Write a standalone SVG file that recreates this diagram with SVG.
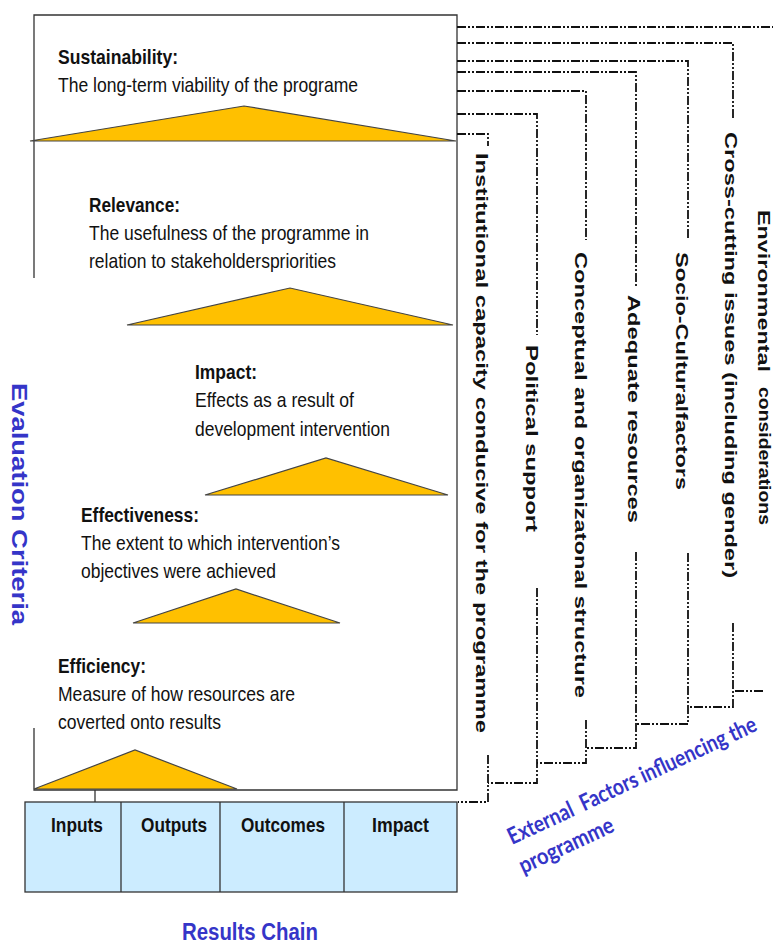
<svg xmlns="http://www.w3.org/2000/svg" width="773" height="944" viewBox="0 0 773 944">
<style>
  .bd{stroke:#333;stroke-width:1.3;fill:none}
  .tri{fill:#FFC000;stroke:#444;stroke-width:1.2;stroke-linejoin:miter}
  .ttl{font-family:"Liberation Sans",Arial,sans-serif;font-size:21px;font-weight:bold;fill:#111}
  .txt{font-family:"Liberation Sans",Arial,sans-serif;font-size:21px;fill:#111}
  .vt{font-family:"Liberation Sans",Arial,sans-serif;font-size:17px;font-weight:bold;fill:#111}
  .blue{font-family:"Liberation Sans",Arial,sans-serif;font-weight:bold;fill:#3535C8}
  .ext{font-family:Lato,"Open Sans",sans-serif;font-weight:bold;font-size:23px;fill:#3535C8;white-space:pre}
  .rc{fill:#CCECFF;stroke:#333;stroke-width:1.3}
  .dl{fill:none;stroke:#111;stroke-width:1.8;stroke-dasharray:9 2 2 2 2 2}
</style>

<g id="criteria-box">
  <path class="bd" d="M34,278 V15 H457 V790 H34 V728"/>
</g>

<g id="sustainability">
  <polygon class="tri" points="30,141 244,106 456,141"/>
  <text class="ttl" x="58" y="64" textLength="120" lengthAdjust="spacingAndGlyphs">Sustainability:</text>
  <text class="txt" x="58" y="92" textLength="300" lengthAdjust="spacingAndGlyphs">The long-term viability of the programe</text>
</g>

<g id="relevance">
  <polygon class="tri" points="127,325 290,288 453,325"/>
  <text class="ttl" x="89" y="212" textLength="91" lengthAdjust="spacingAndGlyphs">Relevance:</text>
  <text class="txt" x="89" y="240" textLength="280" lengthAdjust="spacingAndGlyphs">The usefulness of the programme in</text>
  <text class="txt" x="89" y="268" textLength="247" lengthAdjust="spacingAndGlyphs">relation to stakeholderspriorities</text>
</g>

<g id="impact">
  <polygon class="tri" points="205,495 326,458 448,495"/>
  <text class="ttl" x="195" y="379" textLength="62" lengthAdjust="spacingAndGlyphs">Impact:</text>
  <text class="txt" x="195" y="407" textLength="159" lengthAdjust="spacingAndGlyphs">Effects as a result of</text>
  <text class="txt" x="195" y="436" textLength="195" lengthAdjust="spacingAndGlyphs">development intervention</text>
</g>

<g id="effectiveness">
  <polygon class="tri" points="133,623 236,589 340,623"/>
  <text class="ttl" x="81" y="522" textLength="118" lengthAdjust="spacingAndGlyphs">Effectiveness:</text>
  <text class="txt" x="81" y="550" textLength="259" lengthAdjust="spacingAndGlyphs">The extent to which intervention’s</text>
  <text class="txt" x="81" y="578" textLength="195" lengthAdjust="spacingAndGlyphs">objectives were achieved</text>
</g>

<g id="efficiency">
  <polygon class="tri" points="34,789 135,750 237,789"/>
  <text class="ttl" x="58" y="673" textLength="88" lengthAdjust="spacingAndGlyphs">Efficiency:</text>
  <text class="txt" x="58" y="701" textLength="237" lengthAdjust="spacingAndGlyphs">Measure of how resources are</text>
  <text class="txt" x="58" y="729" textLength="163" lengthAdjust="spacingAndGlyphs">coverted onto results</text>
  <line x1="95" y1="790" x2="95" y2="802" stroke="#333" stroke-width="1.3"/>
</g>

<g id="results-chain">
  <rect class="rc" x="25" y="802" width="432" height="90"/>
  <line x1="121" y1="802" x2="121" y2="892" stroke="#333" stroke-width="1.3"/>
  <line x1="220" y1="802" x2="220" y2="892" stroke="#333" stroke-width="1.3"/>
  <line x1="344" y1="802" x2="344" y2="892" stroke="#333" stroke-width="1.3"/>
  <text class="ttl" x="51" y="832" textLength="52" lengthAdjust="spacingAndGlyphs">Inputs</text>
  <text class="ttl" x="141" y="832" textLength="66" lengthAdjust="spacingAndGlyphs">Outputs</text>
  <text class="ttl" x="241" y="832" textLength="84" lengthAdjust="spacingAndGlyphs">Outcomes</text>
  <text class="ttl" x="372" y="832" textLength="57" lengthAdjust="spacingAndGlyphs">Impact</text>
</g>

<g id="results-chain-label">
  <text class="blue" x="182" y="940" font-size="23" textLength="136" lengthAdjust="spacingAndGlyphs">Results Chain</text>
</g>

<g id="evaluation-criteria-label">
  <text class="blue" font-size="22" transform="translate(12,383) rotate(90)" textLength="242" lengthAdjust="spacingAndGlyphs">Evaluation Criteria</text>
</g>

<g id="connectors">
  <path class="dl" d="M457,27 H773"/>
  <path class="dl" d="M457,43 H733 V120"/>
  <path class="dl" d="M457,61 H688 V240"/>
  <path class="dl" d="M457,72 H636 V288"/>
  <path class="dl" d="M457,91 H586 V240"/>
  <path class="dl" d="M457,114 H537 V335"/>
  <path class="dl" d="M457,134 H488 V146"/>
  <path class="dl" d="M763,691 H733"/>
  <path class="dl" d="M733,623 V707 H688"/>
  <path class="dl" d="M688,553 V724 H636"/>
  <path class="dl" d="M636,552 V748 H586"/>
  <path class="dl" d="M586,720 V763 H537"/>
  <path class="dl" d="M537,588 V783 H488"/>
  <path class="dl" d="M488,755 V802 H458"/>
</g>

<g id="institutional">
  <text class="vt" transform="translate(476,153) rotate(90)" textLength="580" lengthAdjust="spacingAndGlyphs">Institutional capacity conducive for the programme</text>
</g>
<g id="political">
  <text class="vt" transform="translate(526,345) rotate(90)" textLength="187" lengthAdjust="spacingAndGlyphs">Political support</text>
</g>
<g id="conceptual">
  <text class="vt" transform="translate(575,252) rotate(90)" textLength="446" lengthAdjust="spacingAndGlyphs">Conceptual and organizatonal structure</text>
</g>
<g id="adequate">
  <text class="vt" transform="translate(628,295) rotate(90)" textLength="228" lengthAdjust="spacingAndGlyphs">Adequate resources</text>
</g>
<g id="socio-cultural">
  <text class="vt" transform="translate(676,252) rotate(90)" textLength="238" lengthAdjust="spacingAndGlyphs">Socio-Culturalfactors</text>
</g>
<g id="cross-cutting">
  <text class="vt" transform="translate(725,132) rotate(90)" textLength="446" lengthAdjust="spacingAndGlyphs">Cross-cutting issues (including gender)</text>
</g>
<g id="environmental">
  <text class="vt" font-size="17" transform="translate(758,210) rotate(90)" textLength="162" lengthAdjust="spacingAndGlyphs">Environmental</text>
  <text class="vt" font-size="13" transform="translate(759,387) rotate(90)" textLength="138" lengthAdjust="spacingAndGlyphs">considerations</text>
</g>

<g id="external-factors-label">
  <text class="ext" transform="translate(512,845) rotate(-25)" textLength="272" lengthAdjust="spacingAndGlyphs">External  Factors influencing the</text>
  <text class="ext" transform="translate(512,845) rotate(-25)" x="-2" y="31" textLength="102" lengthAdjust="spacingAndGlyphs">programme</text>
</g>
</svg>
